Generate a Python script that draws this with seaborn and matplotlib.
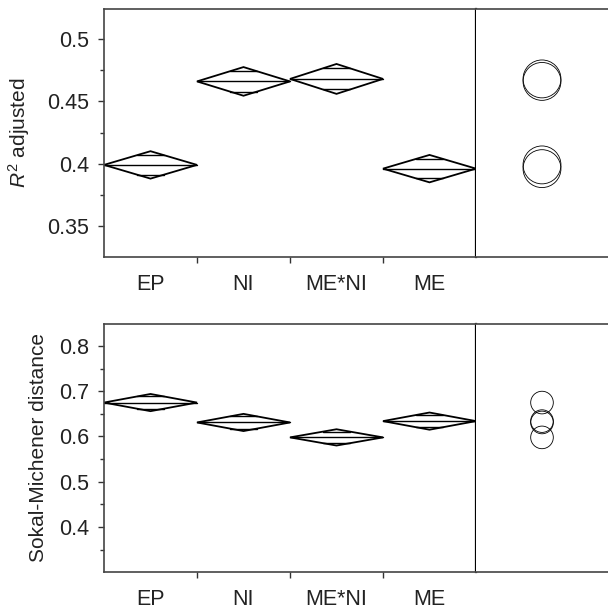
import numpy as np
import pandas as pd
import matplotlib
matplotlib.use("Agg")
import matplotlib.pyplot as plt
from matplotlib.patches import Polygon
from matplotlib.ticker import MultipleLocator
import seaborn as sns

# 그룹 (요인)
groups = ['EP', 'NI', 'ME*NI', 'ME']

# R^2 adjusted: 평균, 95% 신뢰구간 반폭, 비교원 반지름
r2_mean = [0.399, 0.466, 0.468, 0.396]
r2_ci = [0.011, 0.0115, 0.012, 0.011]
r2_circle = [0.0152, 0.0152, 0.0152, 0.0152]

# Sokal-Michener distance
sm_mean = [0.675, 0.631, 0.598, 0.634]
sm_ci = [0.019, 0.019, 0.018, 0.019]
sm_circle = [0.025, 0.025, 0.025, 0.025]

sns.set_style('ticks')
plt.rcParams['font.family'] = ['Liberation Sans', 'DejaVu Sans']
plt.rcParams['mathtext.fontset'] = 'custom'
plt.rcParams['mathtext.rm'] = 'Liberation Sans'
plt.rcParams['mathtext.it'] = 'Liberation Sans:italic'

W, H, DPI = 6.08, 6.10, 100
fig = plt.figure(figsize=(W, H), dpi=DPI)


def panel(top_px, mean, ci, rad, ylim, major, minor, ylabel, lpad):
    # 픽셀 단위 위치 -> figure 비율
    left, div, height = 104, 476, 248
    bottom = 1 - (top_px + height) / (H * DPI)
    ax = fig.add_axes([left / (W * DPI), bottom, (div - left) / (W * DPI), height / (H * DPI)])
    axc = fig.add_axes([div / (W * DPI), bottom, (W * DPI - div) / (W * DPI), height / (H * DPI)])

    df = pd.DataFrame({'group': groups, 'mean': mean, 'ci': ci, 'pos': np.arange(len(groups))})
    w = 0.5 * (1 - 1 / np.sqrt(2))
    for _, row in df.iterrows():
        p, m, h = row['pos'], row['mean'], row['ci']
        ax.add_patch(Polygon([[p - 0.5, m], [p, m + h], [p + 0.5, m], [p, m - h]],
                             closed=True, fill=False, ec='black', lw=1.3))
        ax.plot([p - 0.5, p + 0.5], [m, m], color='black', lw=1.0)
        o = h / np.sqrt(2)
        for s in (1, -1):
            ax.plot([p - w, p + w], [m + s * o] * 2, color='black', lw=1.0)

    ax.set_xlim(-0.5, len(groups) - 0.5)
    ax.set_ylim(*ylim)
    ax.yaxis.set_major_locator(MultipleLocator(major))
    ax.yaxis.set_minor_locator(MultipleLocator(minor))
    ax.yaxis.set_major_formatter(plt.FuncFormatter(lambda v, _: f'{v:g}'))
    ax.set_xticks([0.5, 1.5, 2.5], labels=['', '', ''])
    ax.set_xticks(range(len(groups)), labels=groups, minor=True)
    ax.tick_params(axis='x', which='major', length=4.5, width=1, color='#333')
    ax.tick_params(axis='x', which='minor', length=0, pad=12, labelsize=15.5, labelcolor='#222')
    ax.tick_params(axis='y', which='major', length=4.5, width=1, color='#333', pad=6,
                   labelsize=15.5, labelcolor='#222')
    ax.tick_params(axis='y', which='minor', length=3, width=1, color='#333')
    ax.set_ylabel(ylabel, fontsize=15, labelpad=lpad, color='#222')
    for sp in ['left', 'bottom', 'top']:
        ax.spines[sp].set_color('#444')
        ax.spines[sp].set_linewidth(1.2)
    ax.spines['right'].set_color('black')
    ax.spines['right'].set_linewidth(1.6)

    # 비교원 (comparison circles)
    px_per_unit = height / (ylim[1] - ylim[0])
    diam_pt = 2 * rad[0] * px_per_unit * 72 / DPI
    sns.scatterplot(x=np.zeros(len(mean)), y=mean, ax=axc, s=diam_pt ** 2,
                    facecolor='none', edgecolor='black', linewidth=0.6, legend=False)
    axc.set_xlim(-1, 1)
    axc.set_ylim(*ylim)
    axc.set_xticks([])
    axc.set_yticks([])
    axc.set_xlabel('')
    axc.set_ylabel('')
    axc.spines['left'].set_visible(False)
    axc.spines['right'].set_visible(False)
    for sp in ['bottom', 'top']:
        axc.spines[sp].set_color('#444')
        axc.spines[sp].set_linewidth(1.2)
    return ax, axc


panel(9, r2_mean, r2_ci, r2_circle, (0.3251, 0.5241), 0.05, 0.025, r'$R^2$ adjusted', 11)
panel(324, sm_mean, sm_ci, sm_circle, (0.3004, 0.8487), 0.1, 0.05, 'Sokal-Michener distance', 8)

fig.savefig('out.png', dpi=DPI)
